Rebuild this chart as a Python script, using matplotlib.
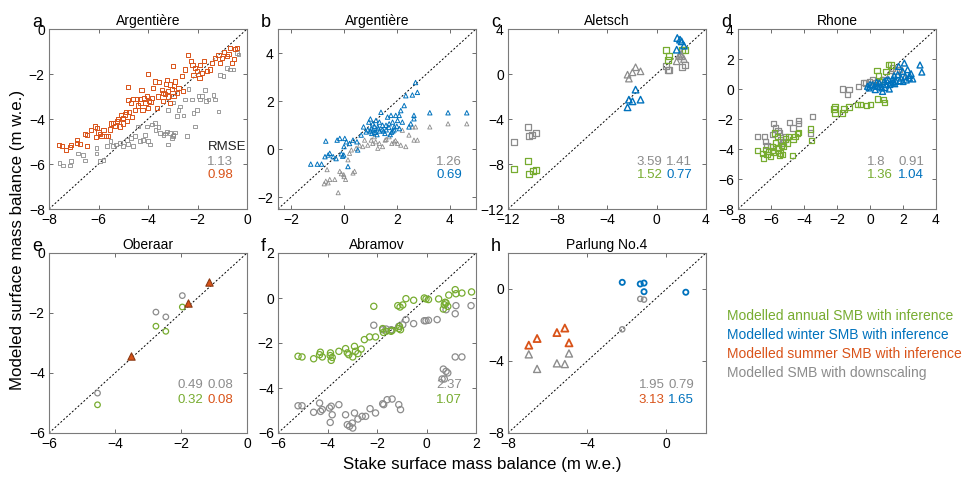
import matplotlib
matplotlib.use('Agg')
import matplotlib.pyplot as plt

plt.rcParams['font.family'] = ['Liberation Sans', 'DejaVu Sans']

GREEN, BLUE, ORANGE, GRAY = '#77AC30', '#0072BD', '#D95319', '#8C8C8C'

# ---- panel a: Argentiere summer (squares)
a_sum_x = [-7.6, -7.46, -7.3, -7.16, -7.1, -6.86, -6.86, -6.76, -6.55, -6.46, -6.46, -6.15, -6.05, -6.0, -5.95,
           -5.88, -5.7, -5.6, -5.54, -5.43, -5.34, -5.24, -5.14, -5.1, -5.0, -4.93, -4.86, -4.8, -4.76, -4.66,
           -4.6, -4.53, -4.46, -4.32, -4.22, -4.16, -4.05, -4.0, -3.95, -3.85, -4.8, -4.26, -4.0, -3.8, -3.72,
           -3.65, -3.54, -3.45, -3.38, -3.27, -3.24, -3.18, -3.1, -3.04, -3.0, -2.97, -2.9, -2.84, -2.77, -2.64,
           -2.57, -2.5, -2.4, -2.27, -2.16, -2.1, -2.03, -1.92, -1.82, -1.73, -1.6, -1.49, -1.28, -1.15, -1.0,
           -0.92, -0.81, -0.68, -0.54, -0.47, -0.4, -0.6, -5.8, -5.5, -5.2, -4.9, -4.4, -4.1, -3.9, -3.6,
           -3.3, -3.1, -2.95, -3.2, -3.4, -4.3, -4.7, -5.0, -6.3, -6.1, -2.2, -1.9, -1.4, -1.1, -0.75]
a_sum_y = [-5.17, -5.2, -5.36, -5.26, -5.17, -4.92, -5.07, -5.1, -4.65, -4.7, -5.19, -4.33, -4.4, -4.6, -4.65,
           -4.77, -4.77, -4.77, -4.47, -4.18, -4.3, -4.1, -4.33, -3.84, -3.96, -3.8, -4.1, -3.14, -3.7, -3.9,
           -3.1, -3.59, -3.1, -3.1, -3.59, -3.07, -2.99, -3.5, -3.2, -3.07, -2.58, -2.7, -1.99, -2.62, -2.33,
           -3.5, -2.37, -2.7, -2.84, -2.43, -2.25, -2.77, -2.47, -2.67, -1.66, -2.99, -2.33, -2.84, -2.62, -2.1,
           -2.77, -1.8, -1.14, -1.44, -2.03, -1.73, -1.88, -2.18, -1.96, -1.44, -1.88, -1.8, -1.29, -1.14, -1.29,
           -1.04, -1.21, -0.84, -1.33, -0.89, -0.84, -1.51, -4.5, -4.2, -4.0, -3.7, -3.4, -3.3, -3.25, -3.0,
           -2.9, -3.3, -2.55, -3.0, -3.2, -3.3, -3.3, -4.2, -4.5, -4.8, -1.6, -1.6, -1.5, -1.5, -1.1]
a_ds_x = [-7.57, -7.43, -7.16, -7.1, -6.82, -6.62, -6.55, -6.08, -6.08, -5.95, -5.8, -5.65, -5.51, -5.41, -5.3,
          -5.14, -5.0, -4.86, -4.8, -4.6, -4.53, -4.4, -4.32, -4.2, -4.12, -4.05, -4.0, -3.92, -3.85, -3.72,
          -3.58, -3.51, -3.38, -3.24, -3.18, -3.1, -3.04, -2.97, -2.84, -2.77, -2.7, -2.57, -2.5, -2.43, -2.36,
          -2.23, -2.16, -2.1, -2.03, -1.96, -1.89, -1.82, -1.69, -1.65, -1.55, -1.35, -1.28, -1.15, -1.08, -0.95,
          -0.81, -0.68, -0.54, -0.4, -0.34, -2.97, -3.2, -3.3, -3.0, -2.9, -4.7, -3.7]
a_ds_y = [-5.96, -6.06, -6.07, -5.88, -5.54, -5.59, -5.84, -5.29, -5.54, -5.88, -5.81, -5.21, -4.99, -5.21, -5.14,
          -5.07, -5.21, -4.92, -5.1, -5.21, -4.77, -4.33, -4.99, -4.92, -4.7, -4.33, -4.99, -5.14, -4.25, -4.18,
          -4.36, -4.62, -4.7, -4.55, -5.14, -4.62, -4.84, -4.7, -3.88, -3.59, -3.44, -3.85, -3.14, -4.77, -2.67,
          -3.14, -3.73, -4.33, -3.59, -2.99, -3.14, -2.99, -2.7, -3.21, -3.14, -2.92, -3.14, -3.66, -2.03, -2.1,
          -1.73, -1.8, -1.8, -1.07, -1.14, -3.26, -3.6, -4.65, -4.75, -4.6, -4.85, -4.5]

# ---- panel b: Argentiere winter (triangles)
b_win_x = [-1.26, -1.01, -0.85, -0.69, -0.72, -0.6, -0.54, -0.41, -0.26, -0.16, -0.1, -0.01, 0.03, 0.09, 0.15,
           0.21, 0.34, 0.49, 0.52, 0.65, 0.74, 0.84, 0.94, 1.03, 1.09, 1.15, 1.21, 1.28, 1.34, 1.4, 1.46, 1.59,
           1.65, 1.71, 1.78, 1.84, 1.9, 1.96, 2.03, 2.09, 2.15, 2.21, 2.28, 2.34, 2.59, 2.78, 2.71, 2.65, 2.65,
           2.53, 2.46, 3.25, 3.94, 4.65, 1.0, 1.1, 1.2, 1.3, 1.5, 1.6, 1.7, 1.8, 1.9, 2.0, 1.05, 1.25, 1.45,
           1.55, 1.75, 1.15, 1.35, 0.9, 1.85, 2.1, -0.3, -0.05, 0.0, 1.0]
b_win_y = [-0.63, -0.63, -0.63, 0.33, -0.32, -0.25, -0.18, -0.32, 0.37, 0.44, -0.2, -0.25, 0.44, 0.3, -0.73,
           0.23, 0.37, 0.3, -0.04, 0.58, 0.92, 0.71, 1.12, 0.85, 1.05, 0.95, 1.19, 0.92, 1.12, 1.53, 0.99, 0.99,
           1.33, 1.05, 1.4, 1.12, 0.92, 1.4, 1.19, 1.4, 1.6, 1.12, 1.81, 2.22, 2.25, 2.36, 2.77, 1.4, 1.26,
           1.05, 0.92, 1.51, 1.51, 1.51, 0.75, 0.8, 0.7, 0.85, 0.75, 0.8, 0.9, 0.7, 0.8, 0.95, 0.65, 0.6, 0.8,
           0.65, 0.6, 0.7, 0.75, 0.8, 0.75, 0.85, -0.4, -0.3, 0.1, 1.25]
b_ds_x = [-0.69, -0.6, -0.54, -0.64, -0.35, -0.22, -0.16, -0.1, -0.01, 0.06, 0.15, 0.34, 0.4, 0.21, 0.28, 0.46,
          0.59, 0.71, 0.78, 0.9, 1.03, 1.09, 1.15, 1.28, 1.34, 1.46, 1.56, 1.71, 1.81, 1.9, 2.03, 2.15, 2.21,
          2.34, 2.46, 2.59, 2.71, 2.65, 2.78, 3.25, 3.94, 4.65, -0.75, 0.0, 1.2, 1.6, 1.95]
b_ds_y = [-1.34, -1.41, -1.27, -0.86, -1.27, -1.82, -0.93, -1.03, -1.07, -1.27, -0.45, -1.0, -0.93, -0.18, -0.04,
          0.03, 0.16, 0.1, 0.37, 0.16, 0.37, 0.23, 0.51, 0.03, 0.23, 0.1, 0.37, 0.51, 0.23, 0.3, 0.23, 0.16, 0.78,
          0.1, 0.58, 0.92, 0.92, 0.37, 0.37, 0.92, 1.05, 1.05, -1.45, -1.15, 0.3, 0.4, 0.35]

# ---- panel c: Aletsch
c_ann_x = [-11.51, -10.38, -10.3, -9.98, -9.76, 0.76, 0.9, 1.0, 2.03, 2.3]
c_ann_y = [-8.44, -7.76, -8.89, -8.59, -8.5, 2.1, 1.27, 1.57, 2.1, 2.16]
c_ds_sq_x = [-11.51, -10.38, -10.3, -10.03, -9.76, 0.76, 0.9, 1.0, 2.03, 2.3]
c_ds_sq_y = [-6.07, -4.71, -5.48, -5.39, -5.24, 0.68, 0.33, 0.39, 0.6, 0.77]
c_win_x = [-2.34, -2.23, -1.94, -1.69, -1.29, 1.68, 1.9, 2.03, 1.63, 2.22]
c_win_y = [-2.96, -2.28, -2.43, -1.39, -2.28, 3.2, 3.05, 2.9, 2.16, 2.52]
c_ds_tr_x = [-2.34, -2.23, -1.94, -1.69, -1.29, 1.63, 1.84, 2.03, 2.22, 1.98]
c_ds_tr_y = [-0.06, -0.41, 0.15, 0.6, 0.24, 1.13, 1.63, 1.57, 1.33, 1.78]

# ---- panel d: Rhone
d_ds_sq_x = [-6.84, -6.38, -6.34, -6.24, -5.83, -5.73, -5.57, -5.48, -5.42, -5.32, -5.22, -5.12, -4.88, -4.67,
             -4.35, -4.31, -3.5, -3.6, -1.67, -1.37, -1.27, -0.7, -0.41, -6.03, -5.93, 0.15, 0.32, 0.76, 1.17,
             1.57, 1.37, 1.78, 1.98, -0.05, -0.25]
d_ds_sq_y = [-3.16, -3.16, -3.49, -3.78, -2.31, -2.6, -2.76, -2.89, -3.38, -3.6, -3.49, -3.16, -2.22, -2.6,
             -2.09, -2.31, -1.82, -2.93, 0.0, -0.38, -0.04, 0.18, 0.44, -3.82, -3.04, 0.62, 0.4, 0.62, 0.89,
             1.18, 1.4, 1.29, 0.84, 0.51, 0.4]
d_ann_x = [-6.84, -6.44, -6.34, -6.24, -6.13, -6.03, -5.93, -5.83, -5.77, -5.73, -5.63, -5.53, -5.42, -5.36,
           -5.32, -5.22, -5.12, -5.02, -4.92, -4.71, -4.67, -4.55, -4.41, -4.31, -3.6, -3.54, -2.18, -2.12, -2.12,
           -1.67, -1.57, -1.27, -0.76, -0.56, -0.21, 0.05, 0.46, 0.8, 0.9, 0.42, 0.52, 1.13, 1.27, 0.6, 0.97,
           -5.9, -5.6, -5.5, -6.5]
d_ann_y = [-4.09, -4.6, -4.04, -4.38, -4.16, -4.49, -3.82, -4.22, -2.93, -3.6, -3.16, -3.93, -4.27, -3.78,
           -4.38, -3.82, -3.33, -3.6, -3.16, -4.44, -3.38, -3.16, -2.98, -2.89, -2.67, -3.42, -1.33, -1.6, -1.16,
           -1.6, -1.33, -1.2, -1.04, -1.04, -1.11, -1.04, -0.67, -0.71, -0.89, 1.22, 0.89, 1.62, 1.6, 0.51, 1.18,
           -4.1, -3.9, -4.45, -4.3]
d_win_x = [-0.15, -0.05, 0.15, 0.32, 0.46, 0.56, 0.72, 0.86, 0.97, 1.13, 1.27, 1.37, 1.47, 1.57, 1.68, 1.74,
           1.88, 1.98, 2.08, 2.14, 2.28, 2.39, 2.49, 2.59, 3.03, 3.14, 0.76, 1.17, 0.3, 0.6, 0.9, 1.2, 1.5,
           1.8, 2.0, 2.2, 0.0, 0.4, 1.0, 1.4, 2.4]
d_win_y = [0.18, 0.07, 0.29, -0.04, 0.18, 0.4, 0.07, 0.51, 0.29, 0.62, 0.4, 0.67, 0.89, 0.51, 0.96, 1.51,
           0.73, 1.18, 1.73, 0.84, 1.29, 0.73, 1.02, 0.67, 1.6, 1.13, -0.16, 0.0, 0.2, 0.15, 0.1, 0.3, 0.35,
           0.55, 0.5, 0.6, 0.3, 0.45, 0.6, 0.45, 0.9]

# ---- panel e: Oberaar
e_ds_x = [-4.53, -2.76, -2.46, -1.96]
e_ds_y = [-4.67, -1.97, -2.13, -1.42]
e_ann_x = [-4.53, -2.76, -2.46, -1.96]
e_ann_y = [-5.06, -2.44, -2.61, -1.8]
e_sum_x = [-3.52, -1.78, -1.15]
e_sum_y = [-3.42, -1.67, -0.98]

# ---- panel f: Abramov
f_ann_x = [-5.19, -5.03, -4.56, -4.32, -4.29, -4.21, -3.89, -3.88, -3.85, -3.81, -3.54, -3.27, -3.2, -3.14,
           -2.98, -2.91, -2.87, -2.77, -2.64, -2.51, -2.3, -2.06, -2.13, -1.77, -1.74, -1.63, -1.43, -1.39,
           -1.12, -1.09, -1.05, -1.16, -1.07, -0.96, -0.83, -0.52, -0.09, -0.02, 0.08, 0.49, 0.68, 0.72, 0.79,
           0.86, 0.75, 1.16, 1.19, 1.43, 1.82, 0.9]
f_ann_y = [-2.59, -2.62, -2.7, -2.52, -2.41, -2.62, -2.56, -2.44, -2.77, -2.64, -2.37, -2.25, -2.44, -2.52,
           -2.62, -2.15, -2.37, -2.47, -2.27, -1.85, -1.73, -1.73, -0.37, -1.36, -1.53, -1.48, -1.48, -1.44,
           -1.36, -1.26, -1.41, -0.34, -0.4, -0.31, -0.03, -0.1, 0.0, -0.04, -0.07, -0.04, -0.49, -0.3, -0.22,
           -0.37, -0.19, 0.37, 0.19, 0.22, 0.27, 0.13]
f_ds_x = [-5.19, -5.03, -4.56, -4.32, -4.28, -4.21, -3.92, -3.85, -3.81, -3.89, -3.54, -3.27, -3.2, -3.11,
          -2.98, -3.0, -2.91, -2.77, -2.6, -2.46, -2.28, -2.06, -1.77, -1.73, -1.59, -1.39, -1.12, -1.05, -2.13,
          -1.77, -1.63, -1.43, -1.12, -0.96, -0.83, -0.52, -0.09, -0.02, 0.08, 0.43, 0.68, 0.72, 0.79, 0.86,
          0.63, 1.16, 1.43, 1.16, 1.19, 0.79, 1.8]
f_ds_y = [-4.79, -4.79, -5.08, -4.67, -5.04, -4.96, -4.89, -4.81, -5.19, -5.53, -4.74, -5.19, -5.63, -5.7,
          -5.78, -5.56, -5.11, -5.38, -5.26, -5.26, -4.92, -5.11, -4.7, -4.74, -4.52, -4.49, -4.74, -4.96, -1.21,
          -1.41, -1.38, -1.41, -1.26, -1.19, -0.96, -1.14, -1.01, -1.01, -0.99, -0.96, -3.16, -3.6, -3.26, -3.33,
          -3.6, -2.62, -2.62, -0.7, -0.34, -0.52, -0.34]

# ---- panel h: Parlung No.4
h_win_x = [-2.23, -1.32, -1.13, -1.13, 0.98]
h_win_y = [0.37, 0.28, 0.33, -0.15, -0.18]
h_ds_ci_x = [-1.32, -1.13, -2.23]
h_ds_ci_y = [-0.55, -0.59, -2.24]
h_sum_x = [-6.95, -6.53, -5.53, -5.13, -4.92]
h_sum_y = [-3.12, -2.75, -2.42, -2.17, -2.99]
h_ds_tr_x = [-6.95, -6.53, -5.53, -5.13, -4.92]
h_ds_tr_y = [-3.63, -4.44, -4.13, -4.17, -3.58]

legend_labels = ['Modelled annual SMB with inference', 'Modelled winter SMB with inference',
                 'Modelled summer SMB with inference', 'Modelled SMB with downscaling']
legend_colors = [GREEN, BLUE, ORANGE, GRAY]

fig = plt.figure(figsize=(9.65, 4.79), dpi=100)

H = 180 / 479
rows = [1 - 209 / 479, 1 - 433 / 479]
cols = [49 / 965, 278 / 965, 508 / 965, 738 / 965]
W = 198 / 965


def make_ax(col, row, lim, ticks, title, letter):
    ax = fig.add_axes([cols[col], rows[row], W, H])
    ax.set_xlim(*lim)
    ax.set_ylim(*lim)
    ax.set_xticks(ticks)
    ax.set_yticks(ticks)
    ax.plot(lim, lim, ls=(0, (2, 2)), color='k', lw=0.7)
    ax.tick_params(direction='in', top=True, right=True, length=3, width=0.6, labelsize=10,
                   color='#555555', pad=3)
    for s in ax.spines.values():
        s.set_color('#7a7a7a')
        s.set_linewidth(0.8)
    ax.set_title(title, fontsize=10, pad=3)
    ax.text(-0.085, 1.01, letter, transform=ax.transAxes, fontsize=13, va='baseline', ha='left')
    return ax


def pts(ax, x, y, marker, color, size, lw=0.8, fill=False):
    ax.scatter(x, y, marker=marker, s=size, facecolors=color if fill else 'none', edgecolors=color,
               linewidths=lw, zorder=3)


def rmse(ax, items):
    for (x, y, txt, c) in items:
        ax.text(x, y, txt, transform=ax.transAxes, color=c, fontsize=9.5, ha='left', va='center')


ax = make_ax(0, 0, (-8, 0), [-8, -6, -4, -2, 0], 'Argentière', 'a')
pts(ax, a_ds_x, a_ds_y, 's', GRAY, 7, 0.6)
pts(ax, a_sum_x, a_sum_y, 's', ORANGE, 9, 0.7)
rmse(ax, [(0.80, 0.345, 'RMSE', '#222222'), (0.80, 0.26, '1.13', GRAY), (0.80, 0.19, '0.98', ORANGE)])

ax = make_ax(1, 0, (-2.5, 5), [-2, 0, 2, 4], 'Argentière', 'b')
pts(ax, b_ds_x, b_ds_y, '^', GRAY, 9, 0.6)
pts(ax, b_win_x, b_win_y, '^', BLUE, 10, 0.7)
rmse(ax, [(0.80, 0.26, '1.26', GRAY), (0.80, 0.19, '0.69', BLUE)])

ax = make_ax(2, 0, (-12, 4), [-12, -8, -4, 0, 4], 'Aletsch', 'c')
pts(ax, c_ds_sq_x, c_ds_sq_y, 's', GRAY, 18, 0.9)
pts(ax, c_ann_x, c_ann_y, 's', GREEN, 18, 0.9)
pts(ax, c_ds_tr_x, c_ds_tr_y, '^', GRAY, 22, 0.9)
pts(ax, c_win_x, c_win_y, '^', BLUE, 22, 1.0)
rmse(ax, [(0.65, 0.26, '3.59', GRAY), (0.80, 0.26, '1.41', GRAY),
          (0.65, 0.19, '1.52', GREEN), (0.80, 0.19, '0.77', BLUE)])

ax = make_ax(3, 0, (-8, 4), [-8, -6, -4, -2, 0, 2, 4], 'Rhone', 'd')
pts(ax, d_ds_sq_x, d_ds_sq_y, 's', GRAY, 14, 0.9)
pts(ax, d_ann_x, d_ann_y, 's', GREEN, 14, 0.9)
pts(ax, d_win_x, d_win_y, '^', BLUE, 18, 1.0)
rmse(ax, [(0.65, 0.26, '1.8', GRAY), (0.81, 0.26, '0.91', GRAY),
          (0.65, 0.19, '1.36', GREEN), (0.81, 0.19, '1.04', BLUE)])

ax = make_ax(0, 1, (-6, 0), [-6, -4, -2, 0], 'Oberaar', 'e')
pts(ax, e_ds_x, e_ds_y, 'o', GRAY, 16, 0.9)
pts(ax, e_ann_x, e_ann_y, 'o', GREEN, 16, 0.9)
ax.scatter(e_sum_x, e_sum_y, marker='^', s=28, facecolors=ORANGE, edgecolors='#8a3a14', linewidths=0.8, zorder=4)
rmse(ax, [(0.65, 0.267, '0.49', GRAY), (0.80, 0.267, '0.08', GRAY),
          (0.65, 0.183, '0.32', GREEN), (0.80, 0.183, '0.08', ORANGE)])

ax = make_ax(1, 1, (-6, 2), [-6, -4, -2, 0, 2], 'Abramov', 'f')
pts(ax, f_ds_x, f_ds_y, 'o', GRAY, 20, 0.9)
pts(ax, f_ann_x, f_ann_y, 'o', GREEN, 20, 0.9)
rmse(ax, [(0.80, 0.267, '2.37', GRAY), (0.80, 0.183, '1.07', GREEN)])

ax = make_ax(2, 1, (-8, 2), [-8, -4, 0], 'Parlung No.4', 'h')
pts(ax, h_ds_ci_x, h_ds_ci_y, 'o', GRAY, 14, 1.0)
pts(ax, h_win_x, h_win_y, 'o', BLUE, 14, 1.3)
pts(ax, h_ds_tr_x, h_ds_tr_y, '^', GRAY, 26, 1.0)
pts(ax, h_sum_x, h_sum_y, '^', ORANGE, 26, 1.3)
rmse(ax, [(0.66, 0.267, '1.95', GRAY), (0.81, 0.267, '0.79', GRAY),
          (0.66, 0.183, '3.13', ORANGE), (0.81, 0.183, '1.65', BLUE)])

for i, (txt, c) in enumerate(zip(legend_labels, legend_colors)):
    fig.text(727 / 965, 1 - (316 + i * 19) / 479, txt, color=c, fontsize=10, va='center', ha='left')

fig.text(18 / 965, 0.5, 'Modeled surface mass balance (m w.e.)', rotation=90, fontsize=12.2,
         va='center', ha='center')
fig.text(482 / 965, 1 - 465 / 479, 'Stake surface mass balance (m w.e.)', fontsize=12.2,
         va='center', ha='center')

fig.savefig('out.png', dpi=100)
